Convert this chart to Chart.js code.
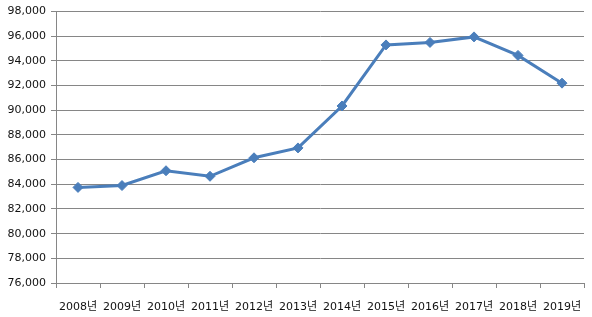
<!DOCTYPE html>
<html>
<head>
<meta charset="utf-8">
<script src="https://cdn.jsdelivr.net/npm/chart.js@4"></script>
<style>
  html, body { margin: 0; padding: 0; background: #fff; }
  #wrap { position: relative; width: 592px; height: 317px; }
</style>
</head>
<body>
<div id="wrap"><canvas id="lineChart"></canvas></div>
<script>
// values
const years = ['2008년', '2009년', '2010년', '2011년', '2012년', '2013년',
               '2014년', '2015년', '2016년', '2017년', '2018년', '2019년'];
const counts = [83750, 83900, 85100, 84650, 86150, 86950,
                90350, 95300, 95500, 95950, 94450, 92200];
const yMin = 76000;
const yMax = 98000;
const yStep = 2000;

const lineBlue = '#4a7ebb';
const gridGray = '#868686';
const tickFont = { family: "'DejaVu Sans', 'Noto Sans CJK KR', sans-serif", size: 11 };

const ctx = document.getElementById('lineChart').getContext('2d');
new Chart(ctx, {
    type: 'line',
    data: {
        labels: years,
        datasets: [{
            data: counts,
            borderColor: lineBlue,
            backgroundColor: lineBlue,
            borderWidth: 3,
            pointStyle: 'rectRot',
            pointRadius: 5,
            pointBorderWidth: 1,
            tension: 0,
        }]
    },
    options: {
        responsive: true,
        maintainAspectRatio: false,
        animation: false,
        layout: { padding: { left: 0, right: 8, top: 7, bottom: 0 } },
        plugins: {
            legend: { display: false },
            tooltip: { enabled: false }
        },
        scales: {
            x: {
                offset: true,
                grid: {
                    offset: true,
                    drawOnChartArea: false,
                    drawTicks: true,
                    tickLength: 5,
                    color: gridGray,
                },
                border: { display: true, color: gridGray, width: 1 },
                ticks: {
                    color: '#111',
                    font: tickFont,
                    padding: 13,
                    maxRotation: 0,
                    autoSkip: false,
                },
                afterFit: s => { s.height = 34; s.paddingLeft = 0; s.paddingRight = 0; }
            },
            y: {
                min: yMin,
                max: yMax,
                grid: {
                    color: gridGray,
                    drawTicks: true,
                    tickLength: 5,
                },
                border: { display: true, color: gridGray, width: 1 },
                ticks: {
                    stepSize: yStep,
                    color: '#111',
                    font: tickFont,
                    padding: 5,
                    callback: v => v.toLocaleString('en-US'),
                },
                afterFit: s => { s.width = 56; }
            }
        }
    }
});
</script>
</body>
</html>
